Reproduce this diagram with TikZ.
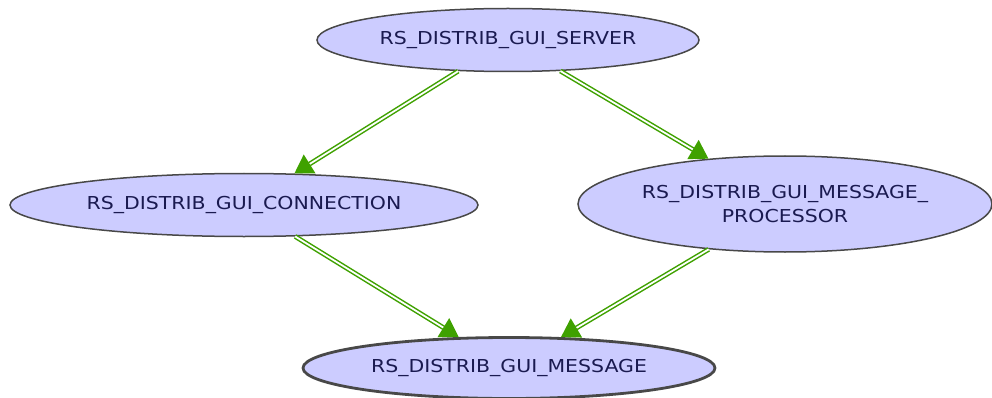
\documentclass[tikz,border=0pt]{standalone}
\usepackage{fontspec}
\setmainfont{DejaVu Sans}[FakeStretch=1.15]
\usetikzlibrary{shapes.geometric, arrows.meta}

\definecolor{classfill}{RGB}{204,204,255}
\definecolor{classline}{RGB}{72,72,72}
\definecolor{classtext}{RGB}{26,26,80}
\definecolor{usegreen}{RGB}{63,161,0}

\begin{document}
\begin{tikzpicture}[
    x=1pt, y=-1pt,
    class/.style={ellipse, draw=classline, fill=classfill, line width=1.5pt, inner sep=0pt, text=classtext, font=\fontsize{17.8}{24}\selectfont, align=center},
    uses/.style={draw=usegreen, double, double distance=1.8pt, line width=1.5pt, -{Triangle[length=18pt, width=22pt]}}
]
    \useasboundingbox (0,0) rectangle (992,398);

    % Define nodes for the classes
    \node[class, minimum width=382pt, minimum height=63pt] (server) at (508,40) {RS\_DISTRIB\_GUI\_SERVER};
    \node[class, minimum width=468pt, minimum height=63pt] (connection) at (244,205) {RS\_DISTRIB\_GUI\_CONNECTION};
    \node[class, minimum width=414pt, minimum height=96pt] (processor) at (785,204) {RS\_DISTRIB\_GUI\_MESSAGE\_\\PROCESSOR};
    \node[class, line width=2.8pt, minimum width=412pt, minimum height=61pt] (message) at (509,368) {RS\_DISTRIB\_GUI\_MESSAGE};

    % Draw the usage arrows between the classes
    \draw[uses] (server) -- (connection);
    \draw[uses] (server) -- (processor);
    \draw[uses] (connection) -- (message);
    \draw[uses] (processor) -- (message);

\end{tikzpicture}
\end{document}
